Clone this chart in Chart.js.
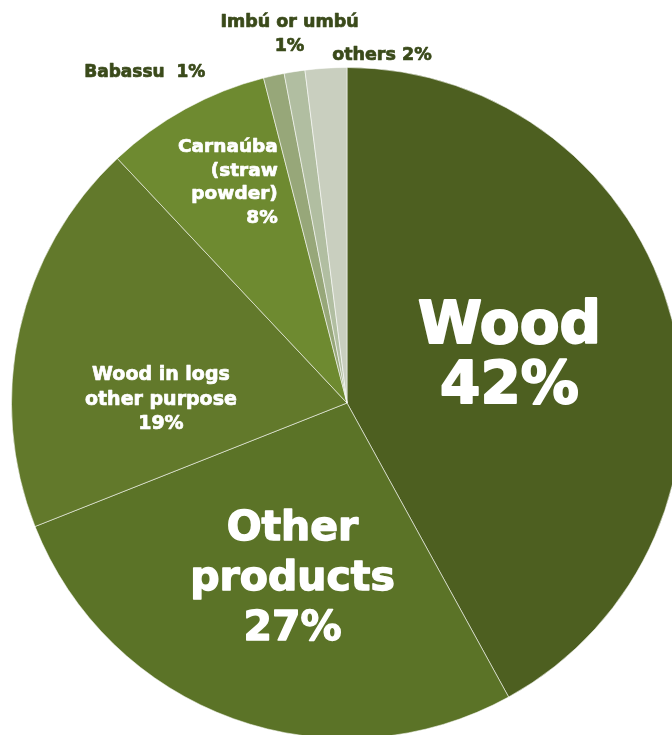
<!DOCTYPE html>
<html>
<head>
<meta charset="utf-8">
<script src="https://cdn.jsdelivr.net/npm/chart.js@4.4.1/dist/chart.umd.min.js"></script>
<style>
  html, body { margin: 0; padding: 0; background: #fff; overflow: hidden; }
  #wrap { width: 672px; height: 735px; overflow: hidden; position: relative; }
  #pie { position: absolute; left: 0; top: 0; }
</style>
</head>
<body>
<div id="wrap"><canvas id="pie" width="694" height="806"></canvas></div>
<script>
// Products, clockwise from 12 o'clock
const products = ['Wood', 'Other products', 'Wood in logs other purpose', 'Carnaúba (straw powder)', 'Babassu', 'Imbú or umbú', 'others'];
const shares = [42, 27, 19, 8, 1, 1, 2];

// how each label is split onto lines (percent is appended from shares)
const labelLines = [
    ['Wood'],
    ['Other', 'products'],
    ['Wood in logs', 'other purpose'],
    ['Carnaúba', '(straw', 'powder)'],
    ['Babassu  '],
    ['Imbú or umbú', ''],
    ['others ']
];

const sliceColors = ['#4d5f20', '#5b7327', '#62792b', '#6e8a30', '#97a779', '#b1bea1', '#c9cfbf'];

// label styling / placement relative to each slice's middle angle
const labelStyle = [
    { size: 58, lh: 60, color: '#fff', f: 0.5, dx: 0, dy: -3, align: 'center' },
    { size: 41, lh: 50, color: '#fff', f: 0.55, dx: 8, dy: 3, align: 'center' },
    { size: 19, lh: 24.5, color: '#fff', f: 0.55, dx: -6, dy: 37, align: 'center' },
    { size: 18.5, lh: 23.5, color: '#fff', f: 0.75, dx: 52, dy: 0, align: 'right' },
    { size: 17, lh: 24, color: '#3a4a1a', f: 1, dx: -129, dy: -3, align: 'center' },
    { size: 17.5, lh: 24, color: '#3a4a1a', f: 1, dx: -5, dy: -37, align: 'center' },
    { size: 17.5, lh: 24, color: '#3a4a1a', f: 1, dx: 56, dy: -13, align: 'center' }
];

const sliceLabels = {
    id: 'sliceLabels',
    afterDatasetsDraw(chart) {
        const ctx = chart.ctx;
        const arcs = chart.getDatasetMeta(0).data;
        arcs.forEach((arc, i) => {
            const st = labelStyle[i];
            const mid = (arc.startAngle + arc.endAngle) / 2;
            const r = arc.outerRadius * st.f;
            const cx = arc.x + Math.cos(mid) * r + st.dx;
            const cy = arc.y + Math.sin(mid) * r + st.dy;
            const lines = labelLines[i].slice();
            const pct = shares[i] + '%';
            if (lines[lines.length - 1] === '') lines[lines.length - 1] = pct;
            else if (lines[lines.length - 1].endsWith(' ')) lines[lines.length - 1] += pct;
            else lines.push(pct);
            ctx.save();
            ctx.font = 'bold ' + st.size + 'px "DejaVu Sans", sans-serif';
            ctx.fillStyle = st.color;
            ctx.strokeStyle = st.color;
            ctx.lineWidth = Math.max(0.7, st.size * 0.035);
            ctx.lineJoin = 'round';
            ctx.textAlign = st.align;
            ctx.textBaseline = 'middle';
            const top = cy - (lines.length - 1) * st.lh / 2;
            lines.forEach((t, k) => {
                // thin stroke to give the extra-bold look
                ctx.strokeText(t, cx, top + k * st.lh);
                ctx.fillText(t, cx, top + k * st.lh);
            });
            ctx.restore();
        });
    }
};

new Chart(document.getElementById('pie'), {
    type: 'pie',
    data: {
        labels: products,
        datasets: [{
            data: shares,
            backgroundColor: sliceColors,
            borderColor: 'rgba(255,255,255,0.55)',
            borderWidth: 1
        }]
    },
    options: {
        responsive: false,
        animation: false,
        layout: { padding: { left: 11, right: 11, top: 67, bottom: 67 } },
        plugins: {
            legend: { display: false },
            tooltip: { enabled: false }
        }
    },
    plugins: [sliceLabels]
});
</script>
</body>
</html>
